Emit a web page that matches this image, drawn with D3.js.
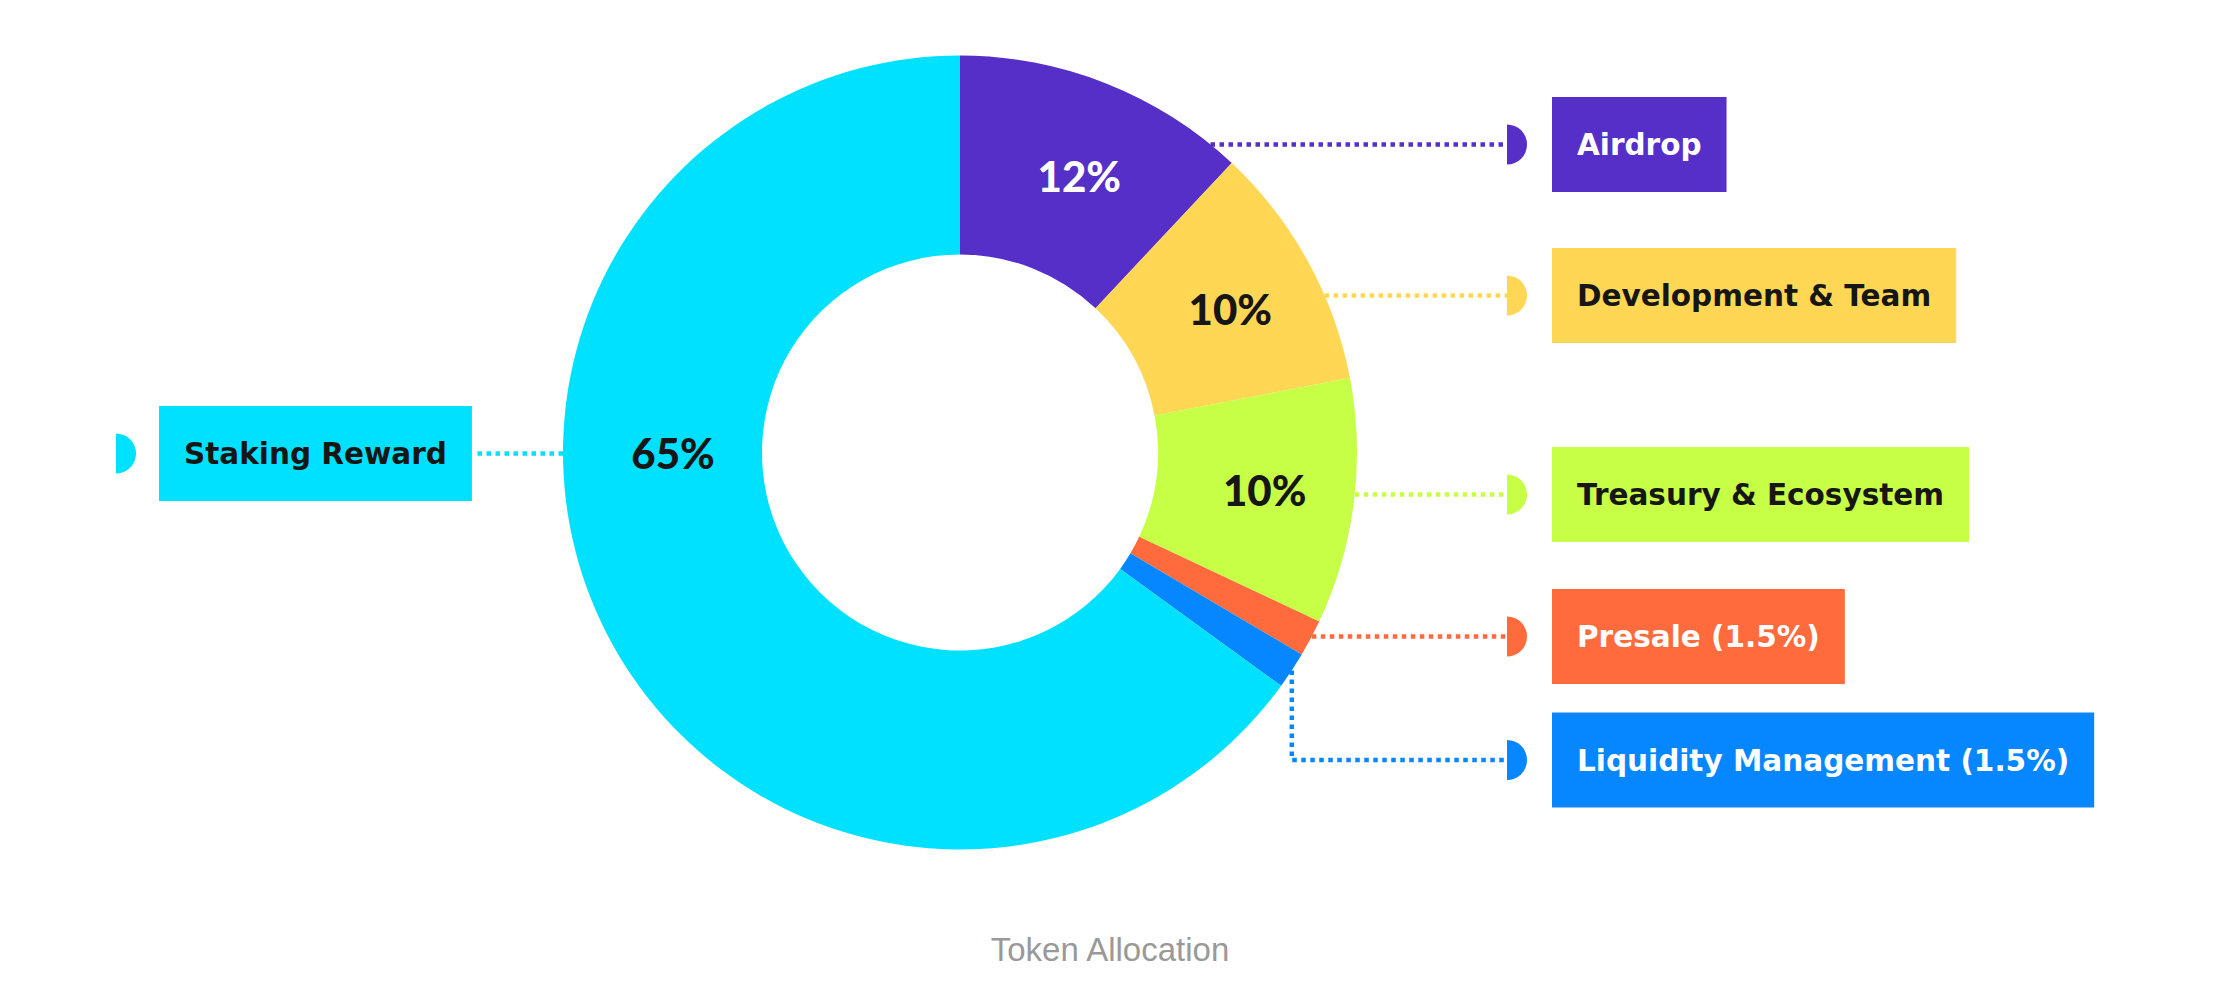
<!DOCTYPE html>
<html>
<head>
<meta charset="utf-8">
<script src="https://cdn.jsdelivr.net/npm/d3@7"></script>
<style>
  body { margin: 0; background: #fff; }
  svg { display: block; }
</style>
</head>
<body>
<svg id="chart"></svg>
<script>
// ---- data ----
const categories = ['Airdrop', 'Development & Team', 'Treasury & Ecosystem', 'Presale', 'Liquidity Management', 'Staking Reward'];
const shares = [12, 10, 10, 1.5, 1.5, 65];
const boxLabels = ['Airdrop', 'Development & Team', 'Treasury & Ecosystem', 'Presale (1.5%)', 'Liquidity Management (1.5%)', 'Staking Reward'];
const sliceLabels = ['12%', '10%', '10%', '', '', '65%'];
const palette = ['#552FC8', '#FFD754', '#C6FF45', '#FF6B3C', '#0686FF', '#00E1FF'];
const inkColors = ['#ffffff', '#161616', '#161616', '#ffffff', '#ffffff', '#161616'];
const title = 'Token Allocation';

// ---- layout ----
const config = {
  width: 2224,
  height: 986,
  cx: 960,
  cy: 452.5,
  outerRadius: 397,
  innerRadius: 198,
  labelRadius: 297,
  // centre line of each callout box, same order as categories
  rows: [144.5, 295.5, 494.5, 636.5, 760, 453.5],
  rightBoxX: 1552,
  leftBoxX: 159,
  rightCapX: 1507,
  leftCapX: 116,
  capRadius: 20,
  boxHeight: 95,
  boxPad: 25
};

const data = categories.map((c, i) => ({
  name: c,
  share: shares[i],
  box: boxLabels[i],
  pct: sliceLabels[i],
  color: palette[i],
  ink: inkColors[i],
  row: config.rows[i]
}));

const svg = d3.select('#chart')
    .attr('width', config.width)
    .attr('height', config.height);

const pie = d3.pie()
    .sort(null)
    .value(d => d.share);

const arcs = pie(data);

const arc = d3.arc()
    .innerRadius(config.innerRadius)
    .outerRadius(config.outerRadius);

const labelArc = d3.arc()
    .innerRadius(config.labelRadius)
    .outerRadius(config.labelRadius);

const R = config.outerRadius;
const isLeft = d => d.data.share > 50;

// Point on the outer ring for the callout row, or elbow from the slice middle
function leaderPath(d) {
  const y = d.data.row;
  const dy = y - config.cy;
  if (isLeft(d)) {
    const xa = config.cx - Math.sqrt(R * R - dy * dy);
    return `M${xa},${y}H${d.boxRight + 2}`;
  }
  let a = Math.abs(dy) < R ? Math.acos(-dy / R) : -1;
  if (a >= d.startAngle && a <= d.endAngle) {
    return `M${config.cx + R * Math.sin(a)},${y}H${config.rightCapX}`;
  }
  const m = (d.startAngle + d.endAngle) / 2;
  const px = config.cx + R * Math.sin(m);
  const py = config.cy - R * Math.cos(m);
  return `M${px},${py}V${y}H${config.rightCapX}`;
}

// ---- callout boxes (measure text first) ----
const boxes = svg.append('g').attr('class', 'boxes');

const boxG = boxes.selectAll('g.box')
    .data(arcs)
  .join('g')
    .attr('class', 'box');

const boxRect = boxG.append('rect');

const boxText = boxG.append('text')
    .attr('font-family', '"DejaVu Sans", sans-serif')
    .attr('font-weight', 700)
    .attr('font-size', 29.5)
    .attr('fill', d => d.data.ink)
    .attr('dy', '0.365em')
    .text(d => d.data.box);

boxText.each(function(d) {
  const w = this.getComputedTextLength();
  d.boxW = w + 2 * config.boxPad;
  d.boxX = isLeft(d) ? config.leftBoxX : config.rightBoxX;
  d.boxRight = d.boxX + d.boxW;
});

boxRect
    .attr('x', d => d.boxX)
    .attr('y', d => d.data.row - config.boxHeight / 2)
    .attr('width', d => d.boxW)
    .attr('height', config.boxHeight)
    .attr('fill', d => d.data.color);

boxText
    .attr('x', d => d.boxX + config.boxPad)
    .attr('y', d => d.data.row);

// half-disc markers
boxG.append('path')
    .attr('fill', d => d.data.color)
    .attr('d', d => {
      const x = isLeft(d) ? config.leftCapX : config.rightCapX;
      const r = config.capRadius;
      const y = d.data.row;
      return `M${x},${y - r}A${r},${r} 0 0 1 ${x},${y + r}Z`;
    });

// ---- dotted leaders ----
svg.append('g')
    .attr('class', 'leaders')
  .selectAll('path')
    .data(arcs)
  .join('path')
    .attr('fill', 'none')
    .attr('stroke', d => d.data.color)
    .attr('stroke-width', 4.5)
    .attr('stroke-dasharray', '4.5,4.5')
    .attr('d', leaderPath);

// ---- donut ----
const chart = svg.append('g')
    .attr('transform', `translate(${config.cx},${config.cy})`);

chart.selectAll('path.slice')
    .data(arcs)
  .join('path')
    .attr('class', 'slice')
    .attr('fill', d => d.data.color)
    .attr('d', arc);

chart.selectAll('text.pct')
    .data(arcs.filter(d => d.data.pct))
  .join('text')
    .attr('class', 'pct')
    .attr('transform', d => {
      let p;
      if (isLeft(d)) {
        // big slice: label sits where its leader leaves the ring
        const dy = d.data.row - config.cy;
        const a = 2 * Math.PI - Math.acos(-dy / R);
        p = [config.labelRadius * Math.sin(a), -config.labelRadius * Math.cos(a)];
      } else {
        p = labelArc.centroid(d);
      }
      return `translate(${p[0] + 10},${p[1]})`;
    })
    .attr('text-anchor', 'middle')
    .attr('dy', '0.38em')
    .attr('font-family', 'Lato, sans-serif')
    .attr('font-weight', 900)
    .attr('font-size', 42)
    .attr('fill', d => d.data.ink)
    .text(d => d.data.pct);

// ---- caption ----
svg.append('text')
    .attr('x', 1110)
    .attr('y', 961)
    .attr('text-anchor', 'middle')
    .attr('font-family', '"Liberation Sans", Arial, sans-serif')
    .attr('font-size', 33)
    .attr('fill', '#999')
    .text(title);
</script>
</body>
</html>
